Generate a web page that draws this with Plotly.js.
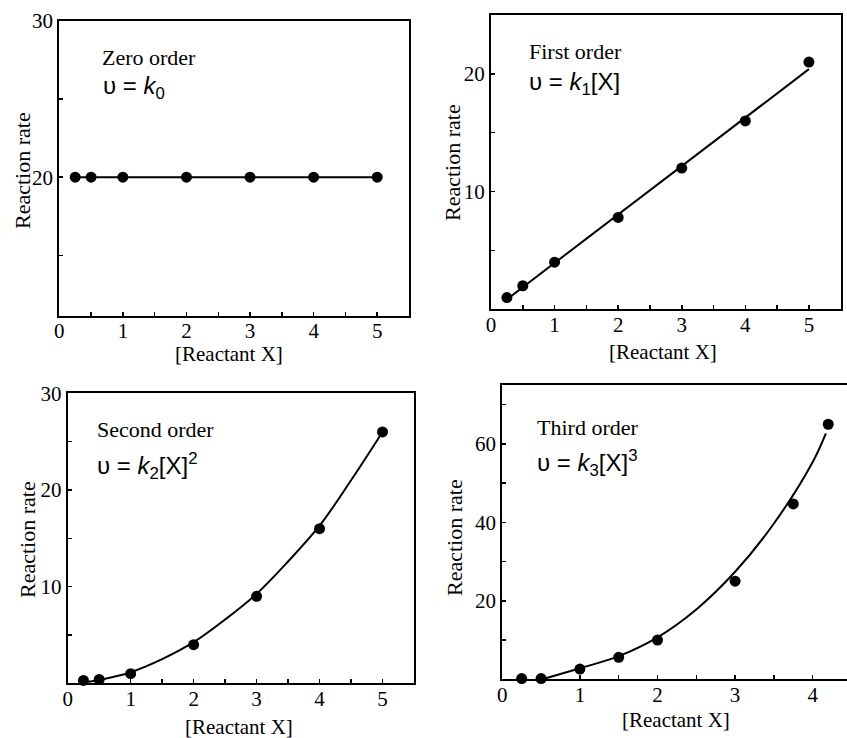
<!DOCTYPE html>
<html>
<head>
<meta charset="utf-8">
<script src="https://cdn.plot.ly/plotly-3.0.1.min.js"></script>
<style>html,body{margin:0;padding:0;background:#fff;overflow:hidden;}</style>
</head>
<body>
<div id="chart" style="width:847px;height:738px;"></div>
<script>
// ---- data ----
const concX = [0.25, 0.5, 1, 2, 3, 4, 5];
const rateZero = [20, 20, 20, 20, 20, 20, 20];
const rateFirst = [1, 2, 4, 7.8, 12, 16, 21];
const rateSecond = [0.3, 0.4, 1, 4, 9, 16, 26];
const concThird = [0.25, 0.5, 1, 1.5, 2, 3, 3.75, 4.2];
const rateThird = [0.2, 0.2, 2.6, 5.6, 10, 25, 44.7, 65];

// fitted curves as drawn in the reference
const fitFirstX = [0.25, 5];
const fitFirstY = [0.85, 20.4];
const fitSecondX = [0.25, 0.5, 1, 1.5, 2, 2.5, 3, 3.5, 4, 4.5, 5];
const fitSecondY = [0.1, 0.35, 1.15, 2.5, 4.25, 6.6, 9.25, 12.6, 16.3, 21, 26];
const fitThirdX = [0.55, 1, 1.5, 2, 2.5, 3, 3.5, 4, 4.17];
const fitThirdY = [0.2, 2.8, 5.9, 10.7, 17.8, 27.4, 39.7, 55.4, 62.7];

const xTickVals = [0, 1, 2, 3, 4, 5];
const panelTitles = ['Zero order', 'First order', 'Second order', 'Third order'];
const formulas = [
  'υ = <i>k</i><sub>0</sub>',
  'υ = <i>k</i><sub>1</sub>[X]',
  'υ = <i>k</i><sub>2</sub>[X]<sup>2</sup>',
  'υ = <i>k</i><sub>3</sub>[X]<sup>3</sup>'
];
const xTitle = '[Reactant X]';
const yTitle = 'Reaction rate';

const serif = 'Liberation Serif, Times New Roman, serif';
const sans = 'Liberation Sans, Arial, sans-serif';

function pts(x, y, xa, ya) {
  return {x: x, y: y, xaxis: xa, yaxis: ya, type: 'scatter', mode: 'markers',
    marker: {color: '#000', size: 11}, cliponaxis: false, showlegend: false, hoverinfo: 'skip'};
}
function line(x, y, xa, ya, shape) {
  return {x: x, y: y, xaxis: xa, yaxis: ya, type: 'scatter', mode: 'lines',
    line: {color: '#000', width: 2, shape: shape || 'linear', smoothing: 1}, showlegend: false, hoverinfo: 'skip'};
}

const data = [
  line(concX, rateZero, 'x', 'y'),
  pts(concX, rateZero, 'x', 'y'),
  line(fitFirstX, fitFirstY, 'x2', 'y2'),
  pts(concX, rateFirst, 'x2', 'y2'),
  line(fitSecondX, fitSecondY, 'x3', 'y3', 'spline'),
  pts(concX, rateSecond, 'x3', 'y3'),
  line(fitThirdX, fitThirdY, 'x4', 'y4', 'spline'),
  pts(concThird, rateThird, 'x4', 'y4')
];

function xax(domain, range, anchor) {
  return {
    domain: domain, range: range, anchor: anchor,
    showline: true, linecolor: '#000', linewidth: 2, mirror: true,
    ticks: 'inside', ticklen: 4, tickwidth: 1.5, tickcolor: '#000',
    tickvals: xTickVals, ticktext: xTickVals.map(String),
    ticklabelstandoff: -5,
    minor: {ticks: 'inside', ticklen: 4, tickwidth: 1.5, tickcolor: '#000', dtick: 0.5, tick0: 0},
    showgrid: false, zeroline: false,
    tickfont: {family: serif, size: 21, color: '#000'}
  };
}
function yax(domain, range, anchor, tickvals, minorVals, mirror) {
  return {
    domain: domain, range: range, anchor: anchor,
    showline: true, linecolor: '#000', linewidth: 2, mirror: mirror === undefined ? true : mirror,
    ticks: 'inside', ticklen: 4, tickwidth: 1.5, tickcolor: '#000',
    tickvals: tickvals, ticktext: tickvals.map(String),
    minor: {ticks: 'inside', ticklen: 4, tickwidth: 1.5, tickcolor: '#000', tickvals: minorVals},
    showgrid: false, zeroline: false,
    tickfont: {family: serif, size: 21, color: '#000'}
  };
}

const W = 847, H = 738;
function px(x) { return x / W; }
function py(y) { return 1 - y / H; }

// [title x, title y, formula x, formula y]
const annPos = [
  [100, 57, 101, 87],
  [527, 52, 527, 84],
  [95, 429, 95, 466],
  [535, 427, 535, 463]
];
// axis title centres: [x-title x, x-title y, y-title x, y-title y]
const axisTitlePos = [
  [229, 354, 22, 171],
  [663, 352, 452, 163],
  [239, 727, 27, 540],
  [676, 720, 454, 538]
];
const annotations = [];
annPos.forEach(function (p, i) {
  annotations.push({xref: 'paper', yref: 'paper', x: px(p[0]), y: py(p[1]), xanchor: 'left', yanchor: 'middle',
    text: panelTitles[i], showarrow: false, font: {family: serif, size: 22, color: '#000'}});
  annotations.push({xref: 'paper', yref: 'paper', x: px(p[2]), y: py(p[3]), xanchor: 'left', yanchor: 'middle',
    text: formulas[i], showarrow: false, font: {family: sans, size: 24, color: '#000'}});
});
axisTitlePos.forEach(function (p) {
  annotations.push({xref: 'paper', yref: 'paper', x: px(p[0]), y: py(p[1]), xanchor: 'center', yanchor: 'middle',
    text: xTitle, showarrow: false, font: {family: serif, size: 21, color: '#000'}});
  annotations.push({xref: 'paper', yref: 'paper', x: px(p[2]), y: py(p[3]), xanchor: 'center', yanchor: 'middle',
    text: yTitle, textangle: -90, showarrow: false, font: {family: serif, size: 22, color: '#000'}});
});

const layout = {
  width: W, height: H,
  margin: {l: 0, r: 0, t: 0, b: 0},
  paper_bgcolor: '#fff', plot_bgcolor: '#fff',
  showlegend: false,
  xaxis: xax([px(59.3), px(409)], [0, 5.5], 'y'),
  yaxis: yax([py(315.7), py(20.7)], [11.15, 30], 'x', [20, 30], [15, 25]),
  xaxis2: xax([px(491), px(840.7)], [0, 5.5], 'y2'),
  yaxis2: yax([py(309.3), py(15)], [0, 25], 'x2', [10, 20], [5, 15]),
  xaxis3: xax([px(67.7), px(414)], [0, 5.5], 'y3'),
  yaxis3: yax([py(683.3), py(393.3)], [0, 30], 'x3', [10, 20, 30], [5, 15, 25]),
  xaxis4: xax([px(502.3), 1], [0, 4.442], 'y4'),
  yaxis4: yax([py(679.3), py(385)], [0, 75], 'x4', [20, 40, 60], [10, 30, 50, 70], false),
  annotations: annotations
};

Plotly.newPlot('chart', data, layout, {staticPlot: true, displayModeBar: false});
</script>
</body>
</html>
